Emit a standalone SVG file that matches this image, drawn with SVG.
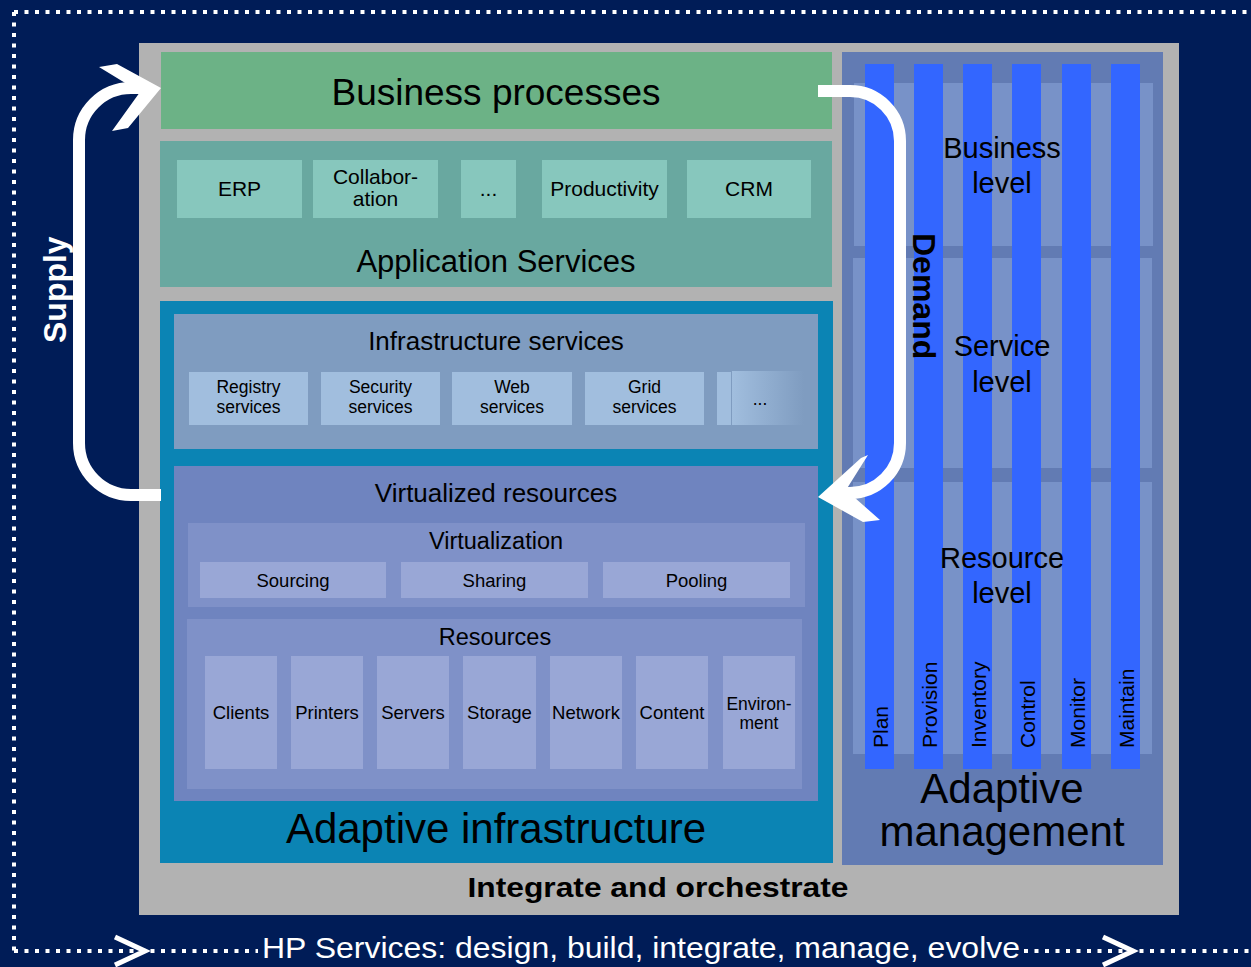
<svg xmlns="http://www.w3.org/2000/svg" width="1251" height="967" viewBox="0 0 1251 967">
<defs>
<linearGradient id="fade" x1="0" y1="0" x2="1" y2="0">
<stop offset="0" stop-color="#a1bede"/>
<stop offset="1" stop-color="#7f9cc0"/>
</linearGradient>
<style>
text{font-family:"Liberation Sans",Arial,sans-serif;fill:#000;text-anchor:middle}
.dot{fill:none;stroke:#fff;stroke-width:4;stroke-dasharray:4 6.5}
.conn{fill:none;stroke:#fff;stroke-width:12}
.head{fill:#fff}
.app{fill:#87c7bd}
.inf{fill:#a1bede}
.vbox{fill:#7f91c8}
.vitem{fill:#99a7d6}
.band{fill:#7892c8}
.col{fill:#3366ff}
.t21{font-size:21px}
.t18{font-size:18.5px}
.t17{font-size:17.5px}
.lvl{font-size:29px}
.vert{font-size:21px;text-anchor:start}
</style>
</defs>
<rect x="0" y="0" width="1251" height="967" fill="#001c57"/>
<g id="frame">
<line class="dot" x1="14" y1="12" x2="1251" y2="12"/>
<line class="dot" x1="14" y1="12" x2="14" y2="951"/>
<line class="dot" x1="14" y1="951" x2="258" y2="951"/>
<line class="dot" x1="1024" y1="951" x2="1251" y2="951"/>
<polyline points="115,937 145,951 115,965" fill="none" stroke="#fff" stroke-width="5"/>
<polyline points="1103,937 1133,951 1103,965" fill="none" stroke="#fff" stroke-width="5"/>
<text x="641" y="958" style="font-size:30px;fill:#fff" textLength="758" lengthAdjust="spacingAndGlyphs">HP Services: design, build, integrate, manage, evolve</text>
</g>
<g id="integrate">
<rect x="139" y="43" width="1040" height="872" fill="#b2b2b2"/>
<text x="658" y="897" style="font-size:28px;font-weight:bold" textLength="381" lengthAdjust="spacingAndGlyphs">Integrate and orchestrate</text>
</g>
<g id="business-processes">
<rect x="161" y="52" width="671" height="77" fill="#6cb286"/>
<text x="496" y="105" style="font-size:37px">Business processes</text>
</g>
<g id="application-services">
<rect x="160" y="141" width="672" height="146" fill="#69a8a0"/>
<rect class="app" x="177" y="160" width="125" height="58"/>
<rect class="app" x="313" y="160" width="125" height="58"/>
<rect class="app" x="461" y="160" width="55" height="58"/>
<rect class="app" x="542" y="160" width="125" height="58"/>
<rect class="app" x="687" y="160" width="124" height="58"/>
<text class="t21" x="239.5" y="196">ERP</text>
<text class="t21" x="375.5" y="184">Collabor-</text>
<text class="t21" x="375.5" y="206">ation</text>
<text class="t21" x="488.5" y="196">...</text>
<text class="t21" x="604.5" y="196">Productivity</text>
<text class="t21" x="749" y="196">CRM</text>
<text x="496" y="272" style="font-size:31px">Application Services</text>
</g>
<g id="adaptive-infrastructure">
<rect x="160" y="301" width="673" height="562" fill="#0b84b4"/>
<text x="496" y="843" style="font-size:42px">Adaptive infrastructure</text>
</g>
<g id="infrastructure-services">
<rect x="174" y="314" width="644" height="135" fill="#7f9cc0"/>
<text x="496" y="350" style="font-size:26px">Infrastructure services</text>
<rect class="inf" x="189" y="372" width="119" height="53"/>
<rect class="inf" x="321" y="372" width="119" height="53"/>
<rect class="inf" x="452" y="372" width="120" height="53"/>
<rect class="inf" x="585" y="372" width="119" height="53"/>
<rect class="inf" x="717" y="372" width="14" height="53"/>
<rect x="732" y="371" width="72" height="54" fill="url(#fade)"/>
<text class="t17" x="248.5" y="393">Registry</text>
<text class="t17" x="248.5" y="413">services</text>
<text class="t17" x="380.5" y="393">Security</text>
<text class="t17" x="380.5" y="413">services</text>
<text class="t17" x="512" y="393">Web</text>
<text class="t17" x="512" y="413">services</text>
<text class="t17" x="644.5" y="393">Grid</text>
<text class="t17" x="644.5" y="413">services</text>
<text class="t17" x="760" y="405">...</text>
</g>
<g id="virtualized-resources">
<rect x="174" y="466" width="644" height="335" fill="#6f84bf"/>
<text x="496" y="502" style="font-size:26px">Virtualized resources</text>
</g>
<g id="virtualization">
<rect class="vbox" x="188" y="523" width="617" height="84"/>
<text x="496" y="549" style="font-size:23.5px">Virtualization</text>
<rect class="vitem" x="200" y="562" width="186" height="36"/>
<rect class="vitem" x="401" y="562" width="187" height="36"/>
<rect class="vitem" x="603" y="562" width="187" height="36"/>
<text class="t18" x="293" y="587">Sourcing</text>
<text class="t18" x="494.5" y="587">Sharing</text>
<text class="t18" x="696.5" y="587">Pooling</text>
</g>
<g id="resources">
<rect class="vbox" x="187" y="619" width="615" height="170"/>
<text x="495" y="645" style="font-size:23.5px">Resources</text>
<rect class="vitem" x="205" y="656" width="72" height="113"/>
<rect class="vitem" x="291" y="656" width="72" height="113"/>
<rect class="vitem" x="377" y="656" width="72" height="113"/>
<rect class="vitem" x="463" y="656" width="73" height="113"/>
<rect class="vitem" x="550" y="656" width="72" height="113"/>
<rect class="vitem" x="636" y="656" width="72" height="113"/>
<rect class="vitem" x="723" y="656" width="72" height="113"/>
<text class="t18" x="241" y="719">Clients</text>
<text class="t18" x="327" y="719">Printers</text>
<text class="t18" x="413" y="719">Servers</text>
<text class="t18" x="499.5" y="719">Storage</text>
<text class="t18" x="586" y="719">Network</text>
<text class="t18" x="672" y="719">Content</text>
<text class="t17" x="759" y="710">Environ-</text>
<text class="t17" x="759" y="729">ment</text>
</g>
<g id="adaptive-management">
<rect x="842" y="52" width="321" height="813" fill="#627bb3"/>
<rect class="band" x="854" y="83" width="299" height="163"/>
<rect class="band" x="853" y="258" width="299" height="210"/>
<rect class="band" x="853" y="482" width="299" height="272"/>
<rect class="col" x="865" y="64" width="29" height="705"/>
<rect class="col" x="914" y="64" width="29" height="705"/>
<rect class="col" x="963" y="64" width="29" height="705"/>
<rect class="col" x="1012" y="64" width="29" height="705"/>
<rect class="col" x="1062" y="64" width="29" height="705"/>
<rect class="col" x="1111" y="64" width="29" height="705"/>
<text class="lvl" x="1002" y="158">Business</text>
<text class="lvl" x="1002" y="193">level</text>
<text class="lvl" x="1002" y="356">Service</text>
<text class="lvl" x="1002" y="392">level</text>
<text class="lvl" x="1002" y="568">Resource</text>
<text class="lvl" x="1002" y="603">level</text>
<text class="vert" transform="translate(888,748) rotate(-90)">Plan</text>
<text class="vert" transform="translate(937,748) rotate(-90)">Provision</text>
<text class="vert" transform="translate(986,748) rotate(-90)">Inventory</text>
<text class="vert" transform="translate(1035,748) rotate(-90)">Control</text>
<text class="vert" transform="translate(1085,748) rotate(-90)">Monitor</text>
<text class="vert" transform="translate(1134,748) rotate(-90)">Maintain</text>
<text x="1002" y="803" style="font-size:42px">Adaptive</text>
<text x="1002" y="846" style="font-size:42px">management</text>
</g>
<g id="connectors">
<path class="conn" d="M161,495 H131 A52,52 0 0 1 79,443 V140 A52,52 0 0 1 131,88 H142"/>
<polygon class="head" points="99,67 117,64 161,88 128,128 112,131 140,92"/>
<text transform="translate(66,343) rotate(-90)" style="font-size:32px;font-weight:bold;fill:#fff;text-anchor:start">Supply</text>
<path class="conn" d="M818,91 H850 A50,50 0 0 1 900,141 V443 A50,50 0 0 1 850,493 H842"/>
<polygon class="head" points="818,497 861,458 868,455 846,490 880,520 863,522"/>
<text transform="translate(913,233) rotate(90)" style="font-size:32px;font-weight:bold;text-anchor:start">Demand</text>
</g>
</svg>
